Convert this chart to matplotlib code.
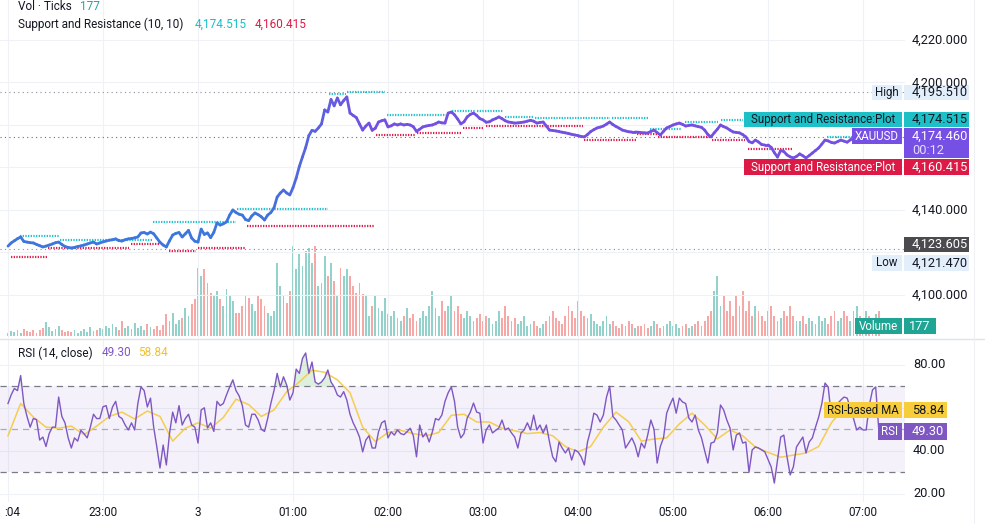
import numpy as np
import matplotlib
matplotlib.use("Agg")
import matplotlib.pyplot as plt
import matplotlib.transforms as mtransforms
from matplotlib.collections import LineCollection
from matplotlib.patches import Rectangle
from matplotlib.lines import Line2D
import matplotlib.colors as mcolors

plt.rcParams['font.family'] = ['Roboto', 'DejaVu Sans']

# ---------------- data (2-minute bars from 22:00) ----------------
close = [
    4123.0, 4124.5, 4125.5, 4126.5, 4127.3, 4125.2, 4124.9, 4124.6, 4124.5, 4123.8,
    4123.2, 4122.6, 4123.0, 4123.5, 4124.0, 4124.6, 4124.9, 4123.8, 4122.8, 4122.4,
    4122.1, 4122.4, 4122.8, 4123.1, 4123.5, 4124.0, 4124.5, 4124.9, 4124.0, 4124.5,
    4125.0, 4125.4, 4125.8, 4126.0, 4126.4, 4125.6, 4125.4, 4126.0, 4126.4, 4126.6,
    4126.9, 4127.3, 4129.2, 4129.4, 4128.7, 4129.6, 4128.8, 4126.8, 4124.8, 4123.5,
    4122.6, 4125.5, 4128.2, 4129.0, 4129.4, 4127.3, 4128.8, 4130.4, 4126.8, 4125.3,
    4124.9, 4131.0, 4128.5, 4129.2, 4127.0, 4129.5, 4133.9, 4132.9, 4133.5, 4134.4,
    4137.6, 4140.0, 4138.8, 4138.0, 4137.6, 4135.5, 4135.0, 4137.2, 4138.6, 4137.8,
    4136.8, 4135.3, 4137.6, 4138.8, 4141.0, 4146.1, 4148.0, 4149.4, 4148.0, 4147.1,
    4150.5, 4155.0, 4160.5, 4165.0, 4169.4, 4175.0, 4177.5, 4177.0, 4178.6, 4180.5,
    4187.1, 4186.1, 4192.0, 4189.0, 4192.7, 4189.5, 4191.5, 4193.2, 4185.6, 4184.5,
    4183.5, 4180.5, 4177.6, 4179.5, 4180.9, 4177.5, 4178.5, 4181.4, 4182.0, 4182.4,
    4179.1, 4179.6, 4180.5, 4180.0, 4180.5, 4180.0, 4180.3, 4180.0, 4179.2, 4177.0,
    4178.0, 4179.1, 4179.5, 4179.8, 4180.0, 4180.6, 4181.4, 4181.0, 4180.9, 4185.6,
    4186.1, 4184.8, 4182.8, 4180.5, 4181.5, 4183.8, 4185.0, 4185.6, 4184.5, 4183.0,
    4182.4, 4181.3, 4181.5, 4182.4, 4183.0, 4183.8, 4183.0, 4182.0, 4181.4, 4181.2,
    4180.9, 4181.0, 4181.2, 4181.4, 4181.8, 4182.2, 4181.8, 4180.9, 4181.2, 4181.4,
    4179.5, 4177.6, 4177.4, 4177.2, 4176.9, 4176.6, 4176.3, 4176.0, 4175.6, 4175.3,
    4175.0, 4174.6, 4174.4, 4175.5, 4176.9, 4177.8, 4178.6, 4179.0, 4179.5, 4180.4,
    4181.4, 4180.2, 4179.3, 4178.5, 4177.6, 4177.2, 4176.8, 4176.7, 4176.7, 4176.6,
    4176.4, 4176.3, 4176.2, 4177.0, 4177.6, 4176.4, 4175.3, 4177.0, 4178.6, 4179.3,
    4180.0, 4180.5, 4180.9, 4180.3, 4179.5, 4179.8, 4180.0, 4179.6, 4179.2, 4178.9,
    4177.6, 4175.5, 4174.4, 4176.3, 4178.0, 4180.0, 4179.2, 4178.6, 4177.6, 4176.7,
    4176.5, 4176.3, 4175.5, 4174.4, 4172.2, 4171.6, 4172.9, 4172.0, 4170.8, 4170.6,
    4170.6, 4169.5, 4167.0, 4164.9, 4168.0, 4167.5, 4165.9, 4165.0, 4164.5, 4165.2,
    4166.4, 4165.5, 4164.5, 4165.6, 4166.8, 4168.0, 4169.2, 4171.0, 4172.9, 4172.5,
    4171.8, 4171.5, 4172.2, 4172.9, 4172.4, 4171.9, 4173.0, 4173.9, 4174.2, 4174.0,
    4174.3, 4174.8, 4174.5, 4174.2, 4174.6, 4174.46,
]

volume = [
    21, 35, 28, 42, 21, 49, 35, 28, 42, 21,
    42, 56, 98, 63, 35, 49, 70, 42, 28, 35,
    28, 42, 21, 35, 49, 28, 63, 35, 42, 56,
    49, 70, 56, 84, 63, 42, 105, 56, 70, 49,
    91, 56, 70, 42, 84, 63, 49, 70, 42, 77,
    154, 105, 161, 84, 112, 126, 196, 140, 224, 259,
    476, 420, 469, 371, 301, 280, 315, 259, 210, 329,
    280, 245, 161, 161, 210, 280, 266, 224, 175, 280,
    259, 210, 161, 140, 175, 511, 350, 280, 231, 315,
    630, 469, 574, 490, 595, 616, 511, 630, 350, 371,
    560, 420, 511, 385, 280, 476, 420, 469, 420, 350,
    301, 371, 294, 280, 140, 210, 280, 196, 175, 266,
    154, 140, 175, 126, 105, 140, 196, 126, 154, 105,
    126, 175, 140, 210, 315, 196, 140, 245, 175, 210,
    280, 175, 210, 154, 126, 175, 140, 105, 126, 154,
    105, 140, 126, 84, 105, 175, 126, 210, 140, 105,
    126, 84, 105, 140, 70, 84, 105, 70, 56, 84,
    105, 140, 175, 126, 105, 84, 140, 210, 175, 126,
    245, 175, 140, 126, 154, 105, 84, 70, 105, 140,
    84, 105, 70, 56, 84, 70, 105, 84, 56, 70,
    70, 84, 56, 70, 105, 84, 56, 70, 84, 105,
    70, 84, 56, 70, 84, 56, 70, 84, 105, 70,
    105, 140, 175, 315, 420, 210, 280, 175, 245, 140,
    280, 210, 315, 175, 245, 140, 210, 175, 140, 105,
    175, 210, 140, 105, 126, 175, 140, 210, 140, 105,
    105, 140, 84, 126, 105, 84, 140, 105, 126, 84,
    140, 175, 105, 126, 175, 140, 105, 175, 210, 140,
    126, 175, 140, 105, 154, 177,
]

rsi = [
    62, 66, 69, 68, 75, 62, 56, 51, 55, 54.5,
    45, 46.4, 42, 48, 51, 51, 65, 56, 53, 46,
    41.3, 46, 44.5, 49.5, 48, 46, 51, 57, 55, 55,
    60.5, 61, 55, 60.4, 63, 56, 55, 52, 49.7, 53,
    49.7, 62, 69.7, 68, 60.4, 64.5, 51, 41.8, 32, 42.7,
    33.4, 48, 58, 53, 61, 52, 55, 57, 52, 51,
    43.6, 59, 60, 50.6, 53, 49, 63, 61, 62, 66,
    69.7, 73, 68, 65.5, 61, 52, 51, 57, 57, 54.3,
    50, 49, 55, 62, 68, 76, 69.7, 74.4, 70.6, 63.6,
    67, 78, 76, 83, 85.5, 76, 81.3, 72, 71, 72,
    74, 77.6, 72, 69.7, 66, 65, 67.5, 63.6, 57, 53,
    50, 46.4, 39.5, 45, 47, 41.3, 41.3, 48.8, 53, 54,
    46, 48.8, 47.3, 49.7, 48, 47.5, 48.8, 50.5, 47, 37.2,
    52, 46.4, 48.3, 44.1, 48.8, 55, 54.3, 56.6, 63, 67,
    69.7, 63, 51, 46, 48, 55.2, 58, 62.2, 58, 57.5,
    43.6, 49.7, 52, 48.3, 49.5, 50.6, 54.3, 49.7, 50.6, 48.3,
    46.4, 41.3, 48.3, 49.7, 53, 49.7, 56.6, 49.7, 52, 48.3,
    52, 44.1, 37.2, 34.9, 44.1, 41.3, 39, 41.3, 35.7, 40.4,
    39.5, 37.2, 33.4, 44.1, 49.7, 57.5, 56.6, 53.4, 56.6, 65,
    70, 56, 54.3, 52, 49.7, 41.3, 43.6, 46, 42.7, 37.2,
    43.6, 41.3, 47.3, 54.3, 50, 34.3, 42, 46, 57.5, 61.3,
    64.5, 57.5, 64.5, 62.7, 62, 55.2, 53.4, 56.6, 49.7, 46,
    40, 34.3, 43.6, 44.1, 48.3, 61.3, 59, 54.3, 50.6, 40.4,
    47.3, 48.3, 43.6, 44.1, 30.1, 40.4, 41.8, 41.3, 40.4, 39.5,
    36, 32.5, 25, 35.7, 46.4, 47.3, 37.2, 28.8, 32.5, 41.8,
    44.1, 46.4, 39, 44.1, 46, 51, 55.7, 62, 71.5, 69.7,
    56, 58, 62, 63.6, 65, 64.5, 60, 55, 49.7, 51,
    49.7, 49.7, 61.3, 68.3, 69.7, 49.3,
]

# RSI-based MA, read every 4th bar (plus the last bar)
rsi_ma = [
    47, 62, 55.7, 51, 50.5, 51.5, 47.5, 51.5, 56, 58,
    54.8, 58.5, 56, 44.5, 50.5, 53, 50.5, 55.5, 64, 61.5,
    56, 59, 67.5, 72, 77.5, 76.5, 73, 67, 51, 44.3,
    48.5, 49.5, 48, 47, 48.5, 56.5, 57, 53.4, 53.4, 50.5,
    49.3, 48, 48.5, 47, 42, 39.5, 42, 51, 58, 53.5,
    44.5, 45.5, 46, 52.5, 57.5, 52, 45.5, 49.7, 47, 41.8,
    39.3, 37, 38, 39, 42, 53, 60, 59.5, 59, 58.84,
]
rsi_ma_bars = list(range(0, 276, 4)) + [275]

# Support & Resistance plot segments (bar index start/end, level)
res_start = [3.8, 16.4, 45.8, 72.3, 101.4, 107.0, 119.7, 140.2, 148.0, 157.0, 166.4, 190.7, 202.7, 213.8, 225.0, 258.6]
res_end   = [16.1, 45.5, 72.0, 101.0, 106.7, 119.0, 138.3, 147.5, 156.3, 165.8, 190.0, 202.0, 212.8, 224.2, 232.0, 275.0]
res_level = [4127.8, 4125.9, 4134.5, 4140.6, 4194.6, 4195.5, 4184.5, 4186.6, 4186.6, 4183.9, 4183.1, 4183.1, 4178.1, 4181.3, 4182.2, 4174.515]
sup_start = [1.0, 12.6, 38.8, 50.8, 60.0, 75.5, 116.2, 129.2, 143.7, 151.0, 181.9, 198.6, 205.3, 222.3, 233.7, 247.0]
sup_end   = [12.3, 38.2, 47.7, 59.4, 75.2, 115.6, 128.8, 143.4, 150.0, 181.6, 198.3, 205.0, 221.7, 232.7, 247.6, 275.0]
sup_level = [4118.0, 4122.0, 4123.9, 4120.9, 4122.3, 4132.7, 4175.5, 4176.4, 4178.7, 4179.7, 4172.9, 4175.6, 4174.5, 4172.9, 4168.9, 4160.415]

session_high = 4195.510
session_low = 4121.470
last_price = 4174.460
prev_label = 4123.605
sr_res_last = 4174.515
sr_sup_last = 4160.415
vol_last = 177
rsi_last = 49.30
rsi_ma_last = 58.84
countdown = "00:12"

bars_per_hour = 30
time_labels = ['23:00', '3', '01:00', '02:00', '03:00', '04:00', '05:00', '06:00', '07:00']
time_label_hours = [1, 2, 3, 4, 5, 6, 7, 8, 9]
price_ticks = [4220, 4200, 4140, 4100]
price_grid = [4100, 4120, 4140, 4160, 4180, 4200, 4220]
rsi_ticks = [80, 40, 20]
rsi_grid = [20, 40, 60, 80]

# ---------------- layout ----------------
W, H = 985, 524
fig = plt.figure(figsize=(W / 100, H / 100), dpi=100)
fig.patch.set_facecolor('white')

def fx(x):
    return x / W

def fy(y):
    return 1 - y / H

PR = 905
XL = (-2.526, 283.26)
ax_v = fig.add_axes([0, fy(336), fx(PR), 336 / H], zorder=1)
ax_p = fig.add_axes([0, fy(338), fx(PR), 338 / H], zorder=2)
ax_r = fig.add_axes([0, fy(502), fx(PR), (502 - 340) / H], zorder=2)
for a in (ax_v, ax_p, ax_r):
    a.set_xlim(*XL)
    a.set_axis_off()
    a.patch.set_alpha(0)
ax_p.set_ylim(4079.76, 4238.82)
ax_v.set_ylim(0, 2352)
ax_r.set_ylim(16.19, 91.53)

GRID = '#eef1f6'
n = len(close)
xi = np.arange(n)
c = np.array(close)

# grid
for h in range(0, 10):
    ax_p.axvline(h * bars_per_hour, color=GRID, lw=0.8, zorder=0)
    ax_r.axvline(h * bars_per_hour, color=GRID, lw=0.8, zorder=0)
for g in price_grid:
    ax_p.axhline(g, color=GRID, lw=0.8, zorder=0)
for g in rsi_grid:
    ax_r.axhline(g, color=GRID, lw=0.8, zorder=0)

# volume
up = np.r_[True, c[1:] >= c[:-1]]
vcols = np.where(up, '#93d2ca', '#f5a8a6')
ax_v.bar(xi, volume, width=0.55, color=vcols, linewidth=0)

# dotted reference lines
dot = (0, (1, 3))
ax_p.axhline(session_high, color='#8a8d96', lw=0.8, ls=dot, zorder=1)
ax_p.axhline(session_low, color='#8a8d96', lw=0.8, ls=dot, zorder=1)
ax_p.axhline(last_price, color='#6a6d78', lw=0.8, ls=dot, zorder=1)

# S&R segments
srls = (0, (0.6, 0.6))
ax_p.hlines(res_level, res_start, res_end, colors='#22c3cf', lw=1.6, linestyles=srls, zorder=2)
ax_p.hlines(sup_level, sup_start, sup_end, colors='#dc2050', lw=1.6, linestyles=srls, zorder=2)

# price line with blue->purple gradient
pts = np.column_stack([xi, c])
segs = np.stack([pts[:-1], pts[1:]], axis=1)
c0 = np.array(mcolors.to_rgb('#3d76dc'))
c1 = np.array(mcolors.to_rgb('#7450e2'))
t = np.clip((xi[:-1] - 78) / 35.0, 0, 1)[:, None]
cols = c0 * (1 - t) + c1 * t
lc = LineCollection(segs, colors=cols, linewidths=2.0, capstyle='round', joinstyle='round', zorder=3)
ax_p.add_collection(lc)

# RSI pane
r = np.array(rsi)
ax_r.axhspan(30, 70, color='#7e57c2', alpha=0.08, lw=0, zorder=0)
ax_r.fill_between(xi, 70, r, where=r > 70, interpolate=True, color='#66bb6a', alpha=0.22, lw=0, zorder=1)
ax_r.fill_between(xi, 30, r, where=r < 30, interpolate=True, color='#ef5350', alpha=0.2, lw=0, zorder=1)
for lvl, col in ((70, '#787b86'), (50, '#a9acb4'), (30, '#787b86')):
    ax_r.axhline(lvl, color=col, lw=0.9, ls=(0, (5, 4)), zorder=1)
ax_r.plot(rsi_ma_bars, rsi_ma, color='#f5cd4f', lw=1.1, zorder=2)
ax_r.plot(xi, r, color='#7e57c2', lw=1.0, zorder=3)

# separators
fig.add_artist(Line2D([0, 1], [fy(338.5), fy(338.5)], color='#e0e3eb', lw=1, transform=fig.transFigure))
fig.add_artist(Line2D([fx(974), fx(974)], [0, 1], color='#eef0f4', lw=0.8, transform=fig.transFigure))

TXT = '#131722'
FS_LEG = 8.5
FS_BOX = 8.3
FS_SCALE = 9.2

def box(x0, y0, x1, y1, fc):
    fig.add_artist(Rectangle((fx(x0), fy(y1)), fx(x1) - fx(x0), fy(y0) - fy(y1),
                             transform=fig.transFigure, facecolor=fc, edgecolor='none', zorder=5))

def label(x, y, s, color=TXT, ha='left', size=FS_BOX):
    fig.text(fx(x), fy(y), s, color=color, ha=ha, va='center', fontsize=size, zorder=6)

def fmt(v, d=3):
    return f"{v:,.{d}f}"

# price scale labels
ytick_px = {4220: 40, 4200: 83.5, 4140: 210, 4100: 295}
for p in price_ticks:
    label(912, ytick_px[p], fmt(p), TXT, size=FS_SCALE)
rtick_px = {80: 364.5, 40: 450.8, 20: 493.8}
for v in rsi_ticks:
    label(913, rtick_px[v], f"{v:.2f}", TXT, size=FS_SCALE)

# High
box(872, 85, 902, 100, '#e3eefb'); label(887, 92.5, 'High', TXT, ha='center')
box(904, 85, 969, 100, '#e3eefb'); label(912, 92.5, fmt(session_high), TXT, size=FS_SCALE)
# S&R resistance
box(744, 112, 902, 127, '#1ec0c8'); label(823, 119.5, 'Support and Resistance:Plot', TXT, ha='center')
box(904, 112, 969, 127, '#1ec0c8'); label(912, 119.5, fmt(sr_res_last), TXT, size=FS_SCALE)
# XAUUSD
box(852, 128, 902, 144, '#7650e4'); label(877, 136, 'XAUUSD', 'white', ha='center')
box(904, 128, 969, 158, '#7650e4')
label(912, 136.5, fmt(last_price), 'white', size=FS_SCALE)
label(912, 150, countdown, '#e6ddff', size=FS_SCALE)
# S&R support
box(744, 159, 902, 175, '#dd1a46'); label(823, 167, 'Support and Resistance:Plot', 'white', ha='center')
box(904, 159, 969, 175, '#dd1a46'); label(912, 167, fmt(sr_sup_last), 'white', size=FS_SCALE)
# dark label
box(904, 237, 969, 252, '#4b4b4f'); label(912, 244.5, fmt(prev_label), 'white', size=FS_SCALE)
# Low
box(872, 255, 902, 271, '#e3eefb'); label(887, 263, 'Low', TXT, ha='center')
box(904, 255, 969, 271, '#e3eefb'); label(912, 263, fmt(session_low), TXT, size=FS_SCALE)
# Volume
box(855, 318, 902, 334, '#1fa593'); label(878.5, 326, 'Volume', 'white', ha='center')
box(904, 318, 936, 334, '#1fa593'); label(920, 326, str(vol_last), 'white', ha='center', size=FS_SCALE)
# RSI MA
box(824, 402, 902, 418, '#f8cd3c'); label(863, 410, 'RSI-based MA', TXT, ha='center')
box(904, 402, 947, 418, '#f8cd3c'); label(912, 410, f"{rsi_ma_last:.2f}", TXT, size=FS_SCALE)
# RSI
box(878, 423, 902, 440, '#7e57c2'); label(890, 431.5, 'RSI', 'white', ha='center')
box(904, 423, 947, 440, '#7e57c2'); label(912, 431.5, f"{rsi_last:.2f}", 'white', size=FS_SCALE)

# legends top-left
label(18, 7, 'Vol · Ticks', TXT, size=FS_LEG)
label(80, 7, str(vol_last), '#26a69a', size=FS_LEG)
label(18, 24.5, 'Support and Resistance (10, 10)', TXT, size=FS_LEG)
label(195, 24.5, fmt(sr_res_last), '#17bfc9', size=FS_LEG)
label(255, 24.5, fmt(sr_sup_last), '#dd1a46', size=FS_LEG)
label(18, 353, 'RSI (14, close)', TXT, size=FS_LEG)
label(102, 353, f"{rsi_last:.2f}", '#7e57c2', size=FS_LEG)
label(138, 353, f"{rsi_ma_last:.2f}", '#f0c229', size=FS_LEG)

# time axis labels
trans = mtransforms.blended_transform_factory(ax_r.transData, fig.transFigure)
for h, s in zip(time_label_hours, time_labels):
    ax_r.text(h * bars_per_hour, fy(513), s, transform=trans, ha='center', va='center',
              fontsize=FS_LEG, color=TXT, clip_on=False)
label(12, 513, ':04', TXT, ha='center', size=FS_LEG)

fig.savefig('out.png', dpi=100, facecolor='white')
